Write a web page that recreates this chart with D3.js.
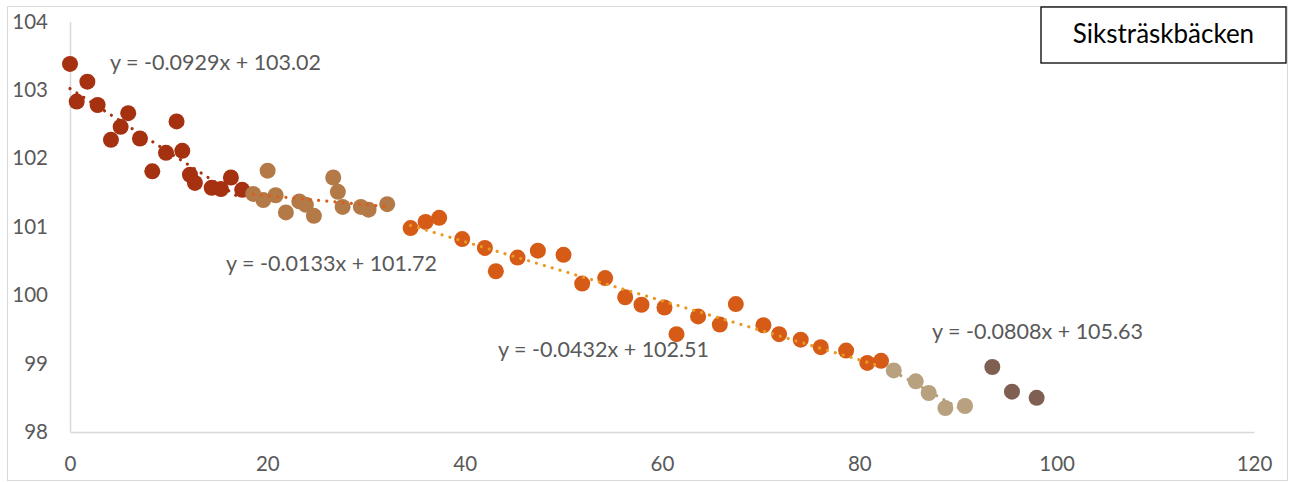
<!DOCTYPE html>
<html>
<head>
<meta charset="utf-8">
<script src="https://cdn.jsdelivr.net/npm/d3@7"></script>
<style>
  html, body { margin: 0; padding: 0; background: #fff; }
  svg { display: block; }
</style>
</head>
<body>
<svg id="chart" width="1293" height="482"></svg>
<script>
// ---- data ----
const xTicks = [0, 20, 40, 60, 80, 100, 120];
const yTicks = [98, 99, 100, 101, 102, 103, 104];
const title = "Siksträskbäcken";

const s1x = [0, 0.68, 1.76, 2.8, 4.15, 5.13, 5.9, 7.09, 8.34, 9.73, 10.8, 11.38, 12.16, 12.66, 14.36, 15.3, 16.31, 17.45];
const s1y = [103.38, 102.83, 103.12, 102.78, 102.27, 102.46, 102.66, 102.29, 101.81, 102.08, 102.54, 102.11, 101.76, 101.64, 101.57, 101.55, 101.72, 101.54];

const s2x = [18.57, 19.59, 20.03, 20.84, 21.88, 23.24, 23.91, 24.72, 26.68, 27.15, 27.63, 29.48, 30.26, 32.15];
const s2y = [101.48, 101.39, 101.82, 101.46, 101.21, 101.37, 101.32, 101.16, 101.72, 101.51, 101.29, 101.29, 101.25, 101.33];

const s3x = [34.52, 36.04, 37.42, 39.75, 42.05, 43.16, 45.36, 47.42, 50.02, 51.91, 54.24, 56.27, 57.92, 60.25, 61.47, 63.66, 65.86, 67.48, 70.28, 71.87, 74.06, 76.09, 78.66, 80.81, 82.2];
const s3y = [100.98, 101.07, 101.13, 100.82, 100.69, 100.35, 100.55, 100.65, 100.59, 100.17, 100.25, 99.97, 99.86, 99.82, 99.43, 99.69, 99.57, 99.87, 99.56, 99.43, 99.35, 99.24, 99.19, 99.01, 99.04];

const s4x = [83.49, 85.72, 87.03, 88.72, 90.71];
const s4y = [98.90, 98.74, 98.57, 98.35, 98.38];

const s5x = [93.48, 95.47, 97.97];
const s5y = [98.95, 98.59, 98.50];

const trendSlopes = [-0.0929, -0.0133, -0.0432, -0.0808];
const trendIntercepts = [103.02, 101.72, 102.51, 105.63];
const trendLabels = ["y = -0.0929x + 103.02", "y = -0.0133x + 101.72", "y = -0.0432x + 102.51", "y = -0.0808x + 105.63"];

// ---- styles ----
const pointColors = ["#A53111", "#B37A48", "#D65B17", "#B8A17F", "#7F5F52"];
const trendColors = ["#A53111", "#DA5E1A", "#E79A22", "#B8A17F"];
const labelPos = [[110, 62], [226, 263], [498, 349], [932, 331]]; // left x, center y (px)

const svg = d3.select("#chart");
const font = "Lato, 'Open Sans', sans-serif";

// outer border
svg.append("rect").attr("x", 7.5).attr("y", 6.5).attr("width", 1280).attr("height", 474)
  .attr("fill", "#fff").attr("stroke", "#D9D9D9").attr("stroke-width", 1);

const x = d3.scaleLinear().domain([0, 120]).range([70, 1254]);
const y = d3.scaleLinear().domain([98, 104]).range([432, 21.5]);

// axes
const xAxis = svg.append("g").attr("transform", `translate(0,${y(98)})`)
  .call(d3.axisBottom(x).tickValues(xTicks).tickSize(0).tickFormat(d3.format("d")));
xAxis.select(".domain").attr("stroke", "#D9D9D9").attr("stroke-width", 1.5);
xAxis.selectAll("text").attr("y", 32).attr("dy", "0.35em")
  .attr("fill", "#595959").style("font-family", font).style("font-size", "20.5px");

const yAxis = svg.append("g").attr("transform", `translate(${x(0)},0)`)
  .call(d3.axisLeft(y).tickValues(yTicks).tickSize(0).tickPadding(22).tickFormat(d3.format("d")));
yAxis.select(".domain").attr("stroke", "#D9D9D9").attr("stroke-width", 1.5);
yAxis.selectAll("text").attr("fill", "#595959").style("font-family", font).style("font-size", "20.5px");

// points
const series = [[s1x, s1y], [s2x, s2y], [s3x, s3y], [s4x, s4y], [s5x, s5y]];
series.forEach(([xs, ys], i) => {
  svg.append("g").selectAll("circle").data(xs.map((d, j) => [d, ys[j]])).join("circle")
    .attr("cx", d => x(d[0])).attr("cy", d => y(d[1])).attr("r", 8)
    .attr("fill", pointColors[i]);
});

// trendlines (dotted)
trendSlopes.forEach((m, i) => {
  const xs = series[i][0];
  const x0 = d3.min(xs), x1 = d3.max(xs);
  svg.append("line")
    .attr("x1", x(x0)).attr("y1", y(m * x0 + trendIntercepts[i]))
    .attr("x2", x(x1)).attr("y2", y(m * x1 + trendIntercepts[i]))
    .attr("stroke", trendColors[i]).attr("stroke-width", 3.2)
    .attr("stroke-linecap", "round").attr("stroke-dasharray", "0.01 8.2");
});

// trendline labels
trendLabels.forEach((t, i) => {
  svg.append("text").attr("x", labelPos[i][0]).attr("y", labelPos[i][1]).attr("dy", "0.35em")
    .attr("fill", "#595959").style("font-family", font).style("font-size", "21.5px").text(t);
});

// title box
svg.append("rect").attr("x", 1041).attr("y", 7).attr("width", 245).attr("height", 56)
  .attr("fill", "#fff").attr("stroke", "#000").attr("stroke-width", 1.3);
svg.append("text").attr("x", 1163.5).attr("y", 43).attr("text-anchor", "middle")
  .attr("fill", "#000").style("font-family", font).style("font-size", "26px").text(title);
</script>
</body>
</html>
